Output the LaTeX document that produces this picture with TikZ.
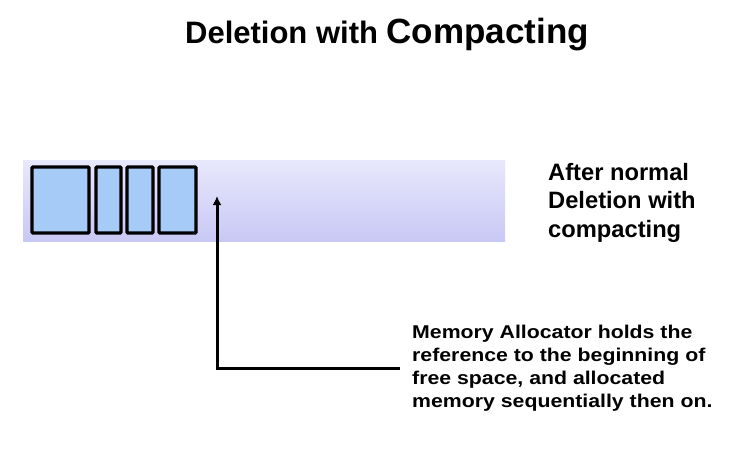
\documentclass[tikz,border=0pt]{standalone}
\usepackage{fontspec}
\setmainfont{Liberation Sans}
\newfontfamily\widefont{Liberation Sans}[FakeStretch=1.15]
\usepackage{xcolor}
\usetikzlibrary{arrows.meta}
\definecolor{bartop}{HTML}{E8E8FC}
\definecolor{barbot}{HTML}{C8C8F5}
\definecolor{blockfill}{HTML}{A6CBF7}
\tikzset{
    memblock/.style={draw=black, line width=3.2pt, fill=blockfill, rounded corners=1pt},
    bold text/.style={align=left, inner sep=0pt}
}

\begin{document}
\begin{tikzpicture}[x=1pt,y=-1pt]
    \useasboundingbox (0,0) rectangle (730,468);

    % title
    \node[anchor=base] (title) at (387,44) {\bfseries\fontsize{31}{34}\selectfont Deletion with \fontsize{35}{38}\selectfont Compacting};

    % memory bar
    \shade[top color=bartop, bottom color=barbot] (23,160) rectangle (505,241);
    \coordinate (bar) at (23,160);

    \draw[memblock] (32,167) rectangle (89,233);
    \draw[memblock] (96,167) rectangle (121,233);
    \draw[memblock] (127,167) rectangle (153,233);
    \draw[memblock] (159,167) rectangle (196,233);

    \node[bold text, anchor=north west, font=\bfseries\fontsize{23.7}{28.5}\selectfont] (state) at (548,163) {After normal\\Deletion with\\compacting};

    % allocator pointer
    \node[bold text, anchor=north west, font=\widefont\bfseries\fontsize{18.5}{23}\selectfont] (note) at (412,324.5) {Memory Allocator holds the\\reference to the beginning of\\free space, and allocated\\memory sequentially then on.};
    \coordinate (start) at (400,368);
    \coordinate (free) at (217,196);
    \draw[line width=3pt, -{Latex[length=9pt,width=9pt]}] (start) -| (free);

\end{tikzpicture}
\end{document}
